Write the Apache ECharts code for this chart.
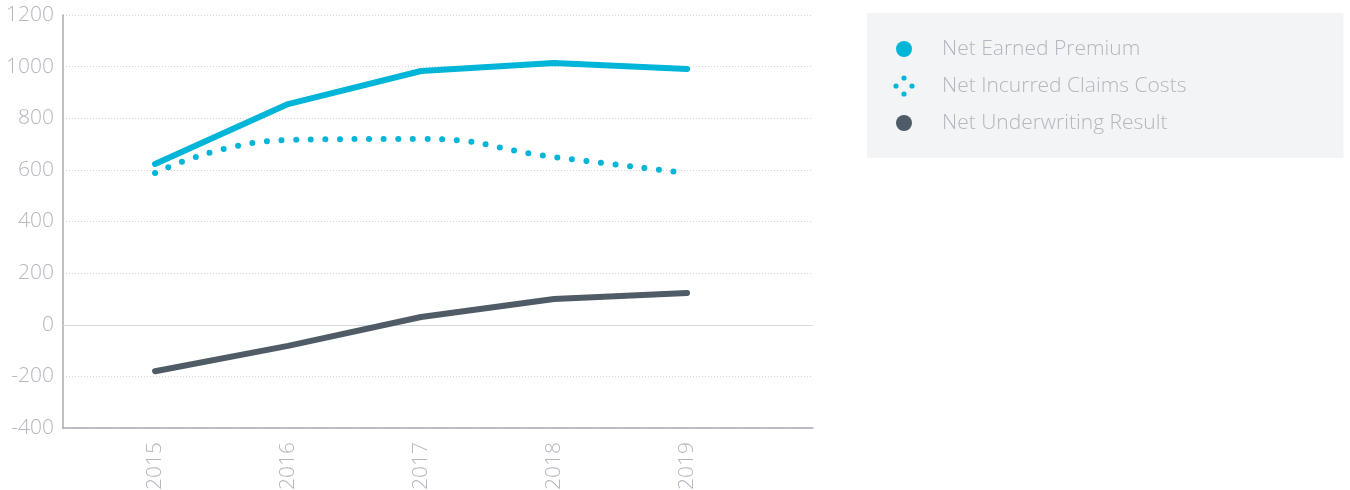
<!DOCTYPE html>
<html>
<head>
<meta charset="utf-8">
<script src="https://cdn.jsdelivr.net/npm/echarts@6/dist/echarts.min.js"></script>
<style>html,body{margin:0;padding:0;background:#fff;}#c{width:1350px;height:490px;}</style>
</head>
<body>
<div id="c"></div>
<script>
const years = [2015, 2016, 2017, 2018, 2019];
const netEarnedPremium = [623, 855, 983, 1014, 991];
const netIncurredClaims = [588, 716, 720, 650, 588];
const netUnderwriting = [-180, -82, 30, 100, 123];
const seriesNames = ['Net Earned Premium', 'Net Incurred Claims Costs', 'Net Underwriting Result'];
const yTicks = [-400, -200, 0, 200, 400, 600, 800, 1000, 1200];

const cyan = '#00b5d8';
const slate = '#4f5b67';
const labelColor = '#b3b7be';
const font = 'Open Sans';

function pairs(vals) { return years.map((y, i) => [y, vals[i]]); }

const circleIcon = 'path://M0 0M44 22M3 11a8 8 0 1 0 16 0a8 8 0 1 0 -16 0Z';
const dotsIcon = 'path://M0 0M44 22' +
  'M8.4 3a2.6 2.6 0 1 0 5.2 0a2.6 2.6 0 1 0 -5.2 0Z' +
  'M0.4 11a2.6 2.6 0 1 0 5.2 0a2.6 2.6 0 1 0 -5.2 0Z' +
  'M16.4 11a2.6 2.6 0 1 0 5.2 0a2.6 2.6 0 1 0 -5.2 0Z' +
  'M8.4 19a2.6 2.6 0 1 0 5.2 0a2.6 2.6 0 1 0 -5.2 0Z';

const chart = echarts.init(document.getElementById('c'), null, {renderer: 'canvas'});
chart.setOption({
  animation: false,
  backgroundColor: '#ffffff',
  textStyle: {fontFamily: font},
  grid: {left: 63, right: 537, top: 15, bottom: 62, containLabel: false, outerBoundsMode: 'none'},
  legend: {
    orient: 'vertical',
    left: 867,
    top: 13,
    padding: [25, 157, 24, 26],
    backgroundColor: '#f3f4f6',
    itemWidth: 44,
    itemHeight: 22,
    itemGap: 15,
    selectedMode: false,
    textStyle: {color: labelColor, fontSize: 21, fontFamily: font, fontWeight: 300},
    data: [
      {name: seriesNames[0], icon: circleIcon, itemStyle: {color: cyan}},
      {name: seriesNames[1], icon: dotsIcon, itemStyle: {color: cyan}},
      {name: seriesNames[2], icon: circleIcon, itemStyle: {color: slate}}
    ]
  },
  xAxis: {
    type: 'value',
    min: 2014.308,
    max: 2019.947,
    minInterval: 1,
    maxInterval: 1,
    axisLine: {show: true, onZero: false, lineStyle: {color: '#a6abb4', width: 1.5}},
    axisTick: {show: false},
    splitLine: {show: false},
    axisLabel: {
      rotate: 90,
      margin: 14,
      showMinLabel: false,
      showMaxLabel: false,
      hideOverlap: false,
      color: labelColor,
      fontSize: 21,
      fontFamily: font,
      fontWeight: 300,
      formatter: v => Number.isInteger(v) && years.indexOf(v) >= 0 ? String(v) : ''
    }
  },
  yAxis: {
    type: 'value',
    min: yTicks[0],
    max: yTicks[yTicks.length - 1],
    interval: 200,
    axisLine: {show: true, lineStyle: {color: '#a6abb4', width: 1.5}},
    axisTick: {show: false},
    axisLabel: {color: labelColor, fontSize: 21, fontFamily: font, fontWeight: 300, margin: 9,
      formatter: v => String(v)},
    splitLine: {show: true, lineStyle: {color: '#d6d6d6', type: [1, 2], width: 1}}
  },
  series: [
    {
      name: seriesNames[0], type: 'line', data: pairs(netEarnedPremium),
      symbol: 'none', lineStyle: {color: cyan, width: 6, cap: 'round', join: 'round'},
      itemStyle: {color: cyan}, z: 3,
      markLine: {
        silent: true, symbol: 'none', label: {show: false},
        lineStyle: {color: '#d6d9de', type: 'solid', width: 1.2},
        data: [{yAxis: 0}], z: 1
      }
    },
    {
      name: seriesNames[1], type: 'line', data: pairs(netIncurredClaims),
      symbol: 'none', smooth: 0.5,
      lineStyle: {color: cyan, width: 6, type: [0, 14.6], cap: 'round'},
      itemStyle: {color: cyan}, z: 3
    },
    {
      name: seriesNames[2], type: 'line', data: pairs(netUnderwriting),
      symbol: 'none', lineStyle: {color: slate, width: 6, cap: 'round', join: 'round'},
      itemStyle: {color: slate}, z: 3
    }
  ]
});
</script>
</body>
</html>
